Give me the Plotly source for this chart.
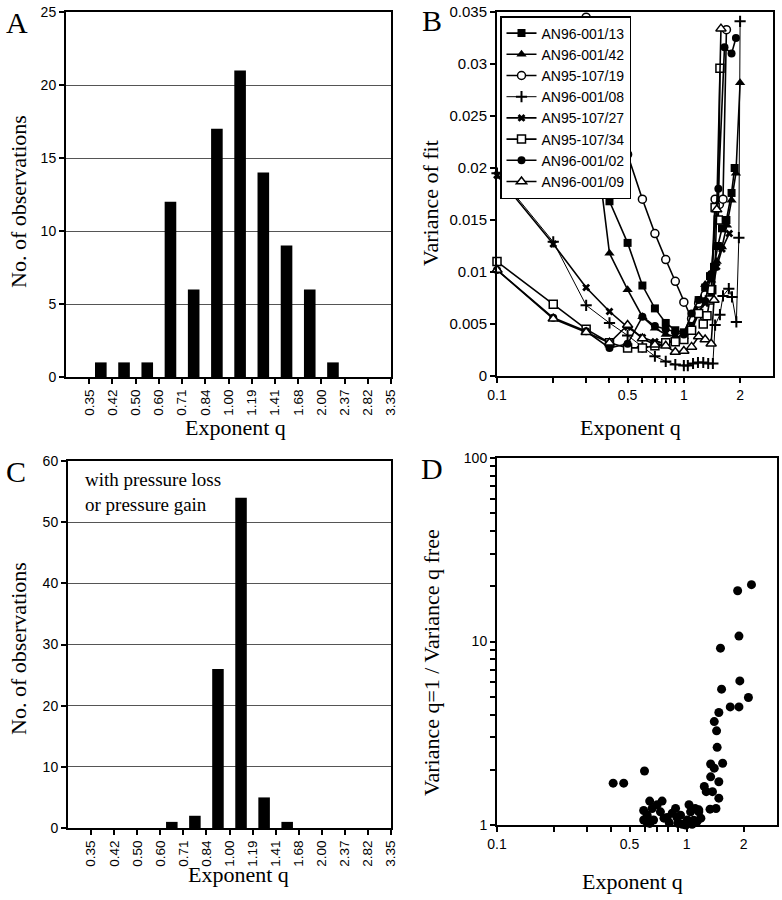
import numpy as np
import plotly.graph_objects as go

W, H = 782, 900

# ---------------- Panel A / C : histograms ----------------
bin_edges = ["0.35", "0.42", "0.50", "0.60", "0.71", "0.84", "1.00", "1.19",
             "1.41", "1.68", "2.00", "2.37", "2.82", "3.35"]
counts_all = [1, 1, 1, 12, 6, 17, 21, 14, 9, 6, 1, 0, 0]
counts_pressure = [0, 0, 0, 1, 2, 26, 54, 5, 1, 0, 0, 0, 0]

# ---------------- Panel B : variance of fit ----------------
b_names = ["AN96-001/13", "AN96-001/42", "AN95-107/19", "AN96-001/08",
           "AN95-107/27", "AN95-107/34", "AN96-001/02", "AN96-001/09"]

b13_x = [0.3, 0.4, 0.5, 0.6, 0.7, 0.8, 0.9, 1.0, 1.1, 1.2, 1.3, 1.38, 1.45, 1.52, 1.6, 1.69, 1.8, 1.87]
b13_y = [0.024, 0.0168, 0.0128, 0.0087, 0.0065, 0.0051, 0.0044, 0.0042, 0.0058, 0.0073, 0.0085,
         0.0096, 0.0105, 0.0125, 0.0142, 0.0150, 0.0176, 0.0200]

b42_x = [0.3, 0.4, 0.5, 0.6, 0.7, 0.8, 0.9, 1.0, 1.1, 1.2, 1.3, 1.4, 1.5, 1.6, 1.7, 1.8, 1.9, 2.0]
b42_y = [0.030, 0.0118, 0.0083, 0.0057, 0.0046, 0.0040, 0.0038, 0.0038, 0.0048, 0.0068, 0.0088,
         0.0092, 0.0110, 0.0124, 0.0145, 0.0169, 0.0195, 0.0282]

b19_x = [0.3, 0.4, 0.5, 0.6, 0.7, 0.8, 0.9, 1.0, 1.1, 1.2, 1.3, 1.4, 1.47, 1.55, 1.62, 1.69]
b19_y = [0.0345, 0.027, 0.0213, 0.0170, 0.0137, 0.0112, 0.0091, 0.0071, 0.0055, 0.0070, 0.0078,
         0.0082, 0.0170, 0.0165, 0.0170, 0.0333]

b08_x = [0.1, 0.2, 0.3, 0.4, 0.5, 0.6, 0.7, 0.8, 0.9, 1.0, 1.05, 1.12, 1.19, 1.27, 1.35, 1.43,
         1.47, 1.56, 1.62, 1.74, 1.81, 1.91, 1.97, 2.0]
b08_y = [0.0195, 0.0129, 0.0068, 0.0051, 0.0039, 0.0028, 0.0019, 0.0014, 0.0011, 0.0010, 0.0010,
         0.0012, 0.0013, 0.0013, 0.0012, 0.0012, 0.0049, 0.0059, 0.0077, 0.0084, 0.0076, 0.0052,
         0.0133, 0.0341]

b27_x = [0.1, 0.2, 0.3, 0.4, 0.5, 0.6, 0.7, 0.8, 0.9, 1.0, 1.1, 1.2, 1.3, 1.4, 1.5, 1.6, 1.75]
b27_y = [0.0193, 0.0127, 0.0085, 0.0062, 0.0047, 0.0037, 0.0033, 0.0032, 0.0035, 0.0038, 0.0048,
         0.0062, 0.0070, 0.0075, 0.0105, 0.0122, 0.0137]

b34_x = [0.1, 0.2, 0.3, 0.4, 0.5, 0.6, 0.7, 0.8, 0.9, 1.0, 1.1, 1.2, 1.27, 1.33, 1.37, 1.41,
         1.47, 1.53, 1.56]
b34_y = [0.0110, 0.0069, 0.0045, 0.0032, 0.0027, 0.0027, 0.0029, 0.0032, 0.0033, 0.0035, 0.0044,
         0.0060, 0.0050, 0.0058, 0.0073, 0.0083, 0.0162, 0.0150, 0.0296]

b02_x = [0.1, 0.2, 0.3, 0.4, 0.5, 0.6, 0.7, 0.8, 0.9, 1.0, 1.1, 1.2, 1.3, 1.4, 1.53, 1.65, 1.8, 1.9]
b02_y = [0.0102, 0.0056, 0.0043, 0.0027, 0.0031, 0.0057, 0.0048, 0.0045, 0.0042, 0.0040, 0.0060,
         0.0073, 0.0072, 0.0098, 0.0180, 0.0316, 0.0310, 0.0325]

b09_x = [0.1, 0.2, 0.3, 0.4, 0.5, 0.6, 0.7, 0.8, 0.9, 1.0, 1.1, 1.2, 1.3, 1.4, 1.45, 1.5, 1.58]
b09_y = [0.0102, 0.0055, 0.0042, 0.0032, 0.0049, 0.0036, 0.0030, 0.0029, 0.0023, 0.0024, 0.0028,
         0.0038, 0.0035, 0.0031, 0.0073, 0.0160, 0.0334]

b_yticks = [0, 0.005, 0.01, 0.015, 0.02, 0.025, 0.03, 0.035]
b_ytick_labels = ["0", "0.005", "0.01", "0.015", "0.02", "0.025", "0.03", "0.035"]

q_ticks = [0.1, 0.2, 0.3, 0.4, 0.5, 0.6, 0.7, 0.8, 0.9, 1, 2]
q_tick_labels = ["0.1", "", "", "", "0.5", "", "", "", "", "1", "2"]

# ---------------- Panel D : variance ratio ----------------
d_q = [2.20, 1.86, 1.89, 1.51, 1.91, 1.53, 2.12, 1.70, 1.89, 1.48, 1.40, 1.44, 1.45, 1.55,
       1.34, 1.40, 1.34, 1.48, 1.24, 1.27, 1.37, 1.48, 1.43, 1.33, 0.41, 0.466, 0.60,
       0.639, 0.743, 0.70, 0.594, 0.62, 0.658, 0.728, 0.79, 0.875, 0.89, 0.95, 1.03, 1.05,
       1.09, 1.16, 0.594, 0.67, 0.81, 0.99, 1.14, 0.64, 0.90, 1.01, 1.07, 1.19, 0.84, 0.76,
       0.93, 0.62, 1.16, 1.11]
d_ratio = [20.4, 18.9, 10.7, 9.2, 6.1, 5.5, 4.95, 4.4, 4.4, 4.1, 3.66, 3.26, 2.65, 2.17,
           2.15, 2.04, 1.83, 1.72, 1.62, 1.52, 1.52, 1.40, 1.23, 1.22, 1.69, 1.69, 1.97,
           1.35, 1.35, 1.29, 1.20, 1.13, 1.23, 1.18, 1.10, 1.23, 1.10, 1.01, 1.29, 1.18,
           1.06, 1.18, 1.065, 1.065, 1.03, 1.0, 1.05, 1.02, 1.02, 1.065, 1.01, 1.09, 1.16,
           1.09, 1.13, 1.03, 1.21, 1.23]
d_yticks = [1, 2, 3, 4, 5, 6, 7, 8, 9, 10, 20, 30, 40, 50, 60, 70, 80, 90, 100]
d_ytick_labels = ["1", "", "", "", "", "", "", "", "", "10", "", "", "", "", "", "", "", "", "100"]

# ---------------------------------------------------------------
def fx(p):
    return p / W


def fy(p):
    return 1 - p / H


fig = go.Figure()

edge_pos = np.arange(len(bin_edges)) + 1
bar_pos = np.arange(len(counts_all)) + 1.5

fig.add_trace(go.Bar(x=bar_pos, y=counts_all, width=0.5, marker=dict(color="black", line=dict(width=0)),
                     xaxis="x", yaxis="y", showlegend=False))
fig.add_trace(go.Bar(x=bar_pos, y=counts_pressure, width=0.5, marker=dict(color="black", line=dict(width=0)),
                     xaxis="x3", yaxis="y3", showlegend=False))

b_series = [
    (b13_x, b13_y, dict(symbol="square", size=8, color="black", line=dict(width=0))),
    (b42_x, b42_y, dict(symbol="triangle-up", size=9, color="black", line=dict(width=0))),
    (b19_x, b19_y, dict(symbol="circle", size=8, color="white", line=dict(color="black", width=1.5))),
    (b08_x, b08_y, dict(symbol="cross-thin", size=8, color="black", line=dict(color="black", width=2))),
    (b27_x, b27_y, dict(symbol="x", size=7, color="black", line=dict(width=0))),
    (b34_x, b34_y, dict(symbol="square", size=8, color="white", line=dict(color="black", width=1.5))),
    (b02_x, b02_y, dict(symbol="circle", size=8, color="black", line=dict(width=0))),
    (b09_x, b09_y, dict(symbol="triangle-up", size=9, color="white", line=dict(color="black", width=1.5))),
]
for name, (xs, ys, mk) in zip(b_names, b_series):
    lw = 1.0 if name == "AN96-001/08" else 1.6
    fig.add_trace(go.Scatter(x=xs, y=ys, name=name, mode="lines+markers",
                             line=dict(color="black", width=lw), marker=mk,
                             xaxis="x2", yaxis="y2", cliponaxis=False))

fig.add_trace(go.Scatter(x=d_q, y=d_ratio, mode="markers",
                         marker=dict(symbol="circle", size=9, color="black"),
                         xaxis="x4", yaxis="y4", showlegend=False, cliponaxis=False))

tickfont = dict(family="Liberation Sans", size=13, color="black")
base = dict(showline=True, linecolor="black", linewidth=2, mirror=True, ticks="outside",
            tickcolor="black", tickwidth=1.5, ticklen=5, zeroline=False, tickfont=tickfont,
            showgrid=False, automargin=False)

fig.update_layout(
    template="none",
    width=W, height=H, margin=dict(l=0, r=0, t=0, b=0, pad=0, autoexpand=False),
    paper_bgcolor="white", plot_bgcolor="white",
    font=dict(family="Liberation Sans", color="black"),
    xaxis=dict(base, domain=[fx(66), fx(391)], range=[0, len(bin_edges)], tickvals=edge_pos,
               ticktext=bin_edges, tickangle=-90, anchor="y", tickfont=dict(tickfont, size=13.5)),
    yaxis=dict(base, domain=[fy(377), fy(12)], range=[0, 25], dtick=5, showgrid=True,
               gridcolor="#555", gridwidth=1, anchor="x", tickfont=dict(tickfont, size=14)),
    xaxis3=dict(base, domain=[fx(68), fx(391)], range=[0, len(bin_edges)], tickvals=edge_pos,
                ticktext=bin_edges, tickangle=-90, anchor="y3", tickfont=dict(tickfont, size=13.5)),
    yaxis3=dict(base, domain=[fy(828), fy(461)], range=[0, 60], dtick=10, showgrid=True,
                gridcolor="#555", gridwidth=1, anchor="x3", tickfont=dict(tickfont, size=14)),
    xaxis2=dict(base, domain=[fx(497), fx(773)], type="log", range=[-1, np.log10(3)],
                tickvals=q_ticks, ticktext=q_tick_labels, anchor="y2", tickfont=dict(tickfont, size=14)),
    yaxis2=dict(base, domain=[fy(376), fy(12)], range=[0, 0.035], tickvals=b_yticks,
                ticktext=b_ytick_labels, anchor="x2", tickfont=dict(tickfont, size=15)),
    xaxis4=dict(base, domain=[fx(497), fx(777)], type="log", range=[-1, np.log10(3)],
                tickvals=q_ticks, ticktext=q_tick_labels, anchor="y4", tickfont=dict(tickfont, size=14)),
    yaxis4=dict(base, domain=[fy(825), fy(458)], type="log", range=[0, 2], tickvals=d_yticks,
                ticktext=d_ytick_labels, anchor="x4", tickfont=dict(tickfont, size=14)),
    legend=dict(x=fx(500), y=fy(16), xanchor="left", yanchor="top", bgcolor="white",
                bordercolor="black", borderwidth=1.5, itemwidth=30,
                font=dict(family="Liberation Sans", size=14, color="black")),
    showlegend=True,
)

serif = "Liberation Serif"
ann = []
for letter, x, y in [("A", 17, 22), ("B", 432, 20), ("C", 16, 471), ("D", 432, 468)]:
    ann.append(dict(text=letter, x=fx(x), y=fy(y), xref="paper", yref="paper", showarrow=False,
                    xanchor="center", yanchor="middle", font=dict(family=serif, size=30, color="black")))
titles = [
    ("No. of observations", 18, 202, -90),
    ("Exponent q", 235, 428, 0),
    ("Variance of fit", 431, 203, -90),
    ("Exponent q", 630, 428, 0),
    ("No. of observations", 18, 649, -90),
    ("Exponent q", 238, 874, 0),
    ("Variance q=1 / Variance q free", 431, 663, -90),
    ("Exponent q", 632, 881, 0),
]
for text, x, y, ang in titles:
    ann.append(dict(text=text, x=fx(x), y=fy(y), xref="paper", yref="paper", showarrow=False,
                    xanchor="center", yanchor="middle", textangle=ang,
                    font=dict(family=serif, size=22, color="black")))
ann.append(dict(text="with pressure loss<br>or pressure gain", x=fx(83), y=fy(492), xref="paper",
                yref="paper", showarrow=False, xanchor="left", yanchor="middle", align="left",
                font=dict(family=serif, size=19, color="black")))
fig.update_layout(annotations=ann)

fig.write_html("out.html", config={"displayModeBar": False},
               post_script="document.body.style.margin='0';document.body.style.padding='0';"
                           "document.body.style.overflow='hidden';")
